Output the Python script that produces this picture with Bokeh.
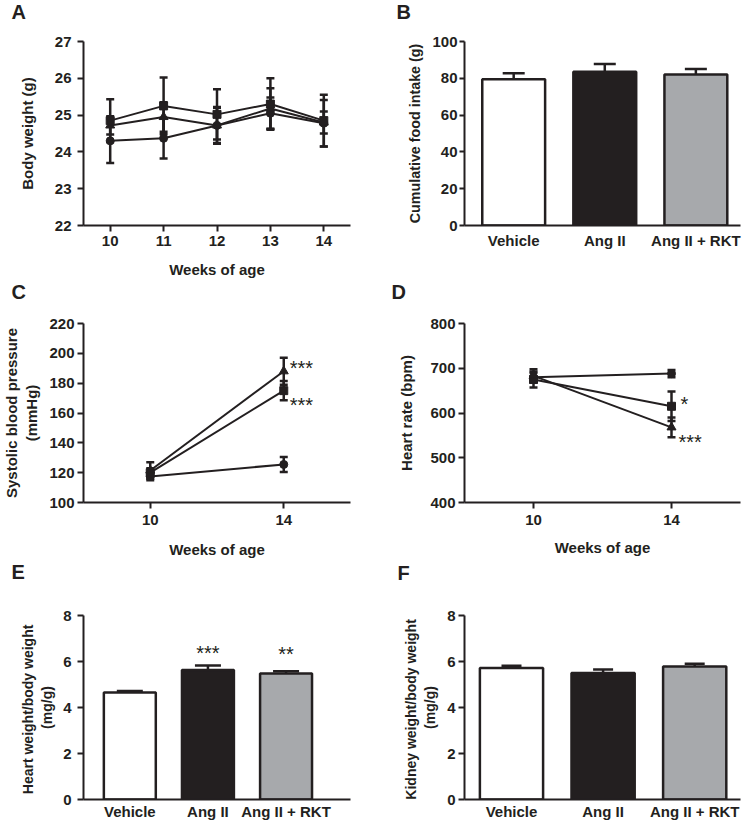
import math
from bokeh.plotting import figure
from bokeh.models import Range1d, FixedTicker, Whisker, TeeHead, ColumnDataSource
from bokeh.layouts import gridplot
from bokeh.embed import file_html
from bokeh.resources import INLINE
from bokeh.core.properties import value

INK = "#231f20"
GRAY = "#a7a9ac"
FONT = "Liberation Sans"

# ---------------- data ----------------
# Panel A: body weight
weeks_a = [10, 11, 12, 13, 14]
bw_ticks = [22, 23, 24, 25, 26, 27]
bw_vehicle = [24.30, 24.37, 24.72, 25.05, 24.78]
bw_vehicle_err = [0.60, 0.55, 0.48, 0.43, 0.63]
bw_angii = [24.85, 25.25, 25.02, 25.30, 24.85]
bw_angii_err = [0.58, 0.77, 0.68, 0.70, 0.70]
bw_rkt = [24.72, 24.95, 24.72, 25.18, 24.80]
bw_rkt_err = [0.25, 0.40, 0.50, 0.55, 0.30]

# Panel B/E/F groups
groups = ["Vehicle", "Ang II", "Ang II + RKT"]
bar_colors = ["white", INK, GRAY]
food = [79.5, 83.5, 82.0]
food_err = [3.2, 4.3, 3.0]
food_ticks = [0, 20, 40, 60, 80, 100]

# Panel C: systolic blood pressure
weeks_cd = [10, 14]
sbp_ticks = [100, 120, 140, 160, 180, 200, 220]
sbp_vehicle = [117.5, 125.5]
sbp_vehicle_err = [2.5, 5.0]
sbp_angii = [120.0, 175.0]
sbp_angii_err = [3.0, 6.5]
sbp_rkt = [121.5, 188.0]
sbp_rkt_err = [5.5, 9.0]
sbp_sig = ["***", "***"]

# Panel D: heart rate
hr_ticks = [400, 500, 600, 700, 800]
hr_vehicle = [680.0, 688.0]
hr_vehicle_err = [10.0, 8.0]
hr_angii = [675.0, 615.0]
hr_angii_err = [18.0, 33.0]
hr_rkt = [683.0, 568.0]
hr_rkt_err = [15.0, 22.0]
hr_sig = ["*", "***"]

# Panel E / F: organ weights
ratio_ticks = [0, 2, 4, 6, 8]
heart = [4.65, 5.63, 5.48]
heart_err = [0.07, 0.20, 0.10]
heart_sig = ["", "***", "**"]
kidney = [5.72, 5.50, 5.78]
kidney_err = [0.10, 0.15, 0.12]


# ---------------- helpers ----------------
def style_axis(ax, tick_out, standoff, label=None, label_standoff=0, label_size="15px"):
    ax.axis_line_width = 2
    ax.axis_line_color = INK
    ax.major_tick_line_width = 2
    ax.major_tick_line_color = INK
    ax.major_tick_out = tick_out
    ax.major_tick_in = 0
    ax.minor_tick_line_color = None
    ax.major_label_standoff = standoff
    ax.major_label_text_font = FONT
    ax.major_label_text_font_style = "bold"
    ax.major_label_text_font_size = "15px"
    ax.major_label_text_color = INK
    if label:
        ax.axis_label = label
        ax.axis_label_standoff = label_standoff
        ax.axis_label_text_font = FONT
        ax.axis_label_text_font_style = "bold"
        ax.axis_label_text_font_size = label_size
        ax.axis_label_text_color = INK


def make_fig(w, h, ml, mr, mt, mb, xr, yr, xticks, yticks, letter, letter_x,
             letter_standoff, pad_lines=1, xt=(6, 2), yt=(6, 5), xlabel=None, xls=0,
             ylabel=None, yls=0, ysize="15px"):
    # letter_x: left edge of the panel letter, in this figure's own pixels
    p = figure(width=w, height=h, x_range=Range1d(*xr), y_range=Range1d(*yr),
               title=letter + "\n " * pad_lines, output_backend="svg",
               toolbar_location=None,
               min_border_left=ml, min_border_right=mr,
               min_border_top=mt, min_border_bottom=mb)
    p.title.text_font = FONT
    p.title.text_font_size = "20px"
    p.title.text_font_style = "bold"
    p.title.text_color = INK
    p.title.align = "left"
    p.title.offset = letter_x - ml - 7
    p.title.standoff = letter_standoff
    p.outline_line_color = None
    p.xgrid.visible = False
    p.ygrid.visible = False
    p.background_fill_color = "white"
    p.border_fill_color = "white"
    p.xaxis.ticker = FixedTicker(ticks=xticks)
    p.yaxis.ticker = FixedTicker(ticks=yticks)
    style_axis(p.xaxis[0], *xt, label=xlabel, label_standoff=xls)
    style_axis(p.yaxis[0], *yt, label=ylabel, label_standoff=yls, label_size=ysize)
    return p


def series(p, xs, ys, es, marker, size, cap=8):
    src = ColumnDataSource(dict(
        x=xs, y=ys,
        lo=[y - e for y, e in zip(ys, es)],
        hi=[y + e for y, e in zip(ys, es)]))
    p.add_layout(Whisker(source=src, base="x", upper="hi", lower="lo",
                         line_color=INK, line_width=2.5,
                         upper_head=TeeHead(size=cap, line_color=INK, line_width=2.5),
                         lower_head=TeeHead(size=cap, line_color=INK, line_width=2.5)))
    p.line("x", "y", source=src, line_color=INK, line_width=2)
    p.scatter("x", "y", source=src, marker=marker, size=size,
              fill_color=INK, line_color=INK)


def bars(p, vals, errs, width, cap):
    xs = list(range(len(groups)))
    src = ColumnDataSource(dict(
        x=xs, top=vals, color=bar_colors,
        hi=[v + e for v, e in zip(vals, errs)]))
    p.add_layout(Whisker(source=src, base="x", upper="hi", lower="top",
                         line_color=INK, line_width=2.5,
                         upper_head=TeeHead(size=cap, line_color=INK, line_width=2.5),
                         lower_head=None))
    p.vbar(x="x", top="top", bottom=0, width=width, source=src,
           fill_color="color", line_color=INK, line_width=2.5)
    p.xaxis.major_label_overrides = {i: g for i, g in enumerate(groups)}


def stars(p, xs, ys, texts, xo, yo, align):
    p.text(x=xs, y=ys, text=texts, x_offset=xo, y_offset=yo,
           text_font=value(FONT), text_font_size="20px", text_align=align,
           text_baseline="alphabetic", text_color=INK)


# ---------------- Panel A ----------------
pa = make_fig(370, 280, 75, 16, 41, 52, (9.5, 14.5), (22, 27), weeks_a, bw_ticks,
              "A", 10, -6, xt=(6, 4), yt=(6, 6),
              xlabel="Weeks of age", xls=12, ylabel="Body weight (g)", yls=16)
series(pa, weeks_a, bw_vehicle, bw_vehicle_err, "circle", 8)
series(pa, weeks_a, bw_rkt, bw_rkt_err, "triangle", 9)
series(pa, weeks_a, bw_angii, bw_angii_err, "square", 8)

# ---------------- Panel B ----------------
pb = make_fig(373, 280, 90, 3, 41, 55, (-0.54, 2.49), (0, 100), [0, 1, 2], food_ticks,
              "B", 29, -6, xt=(0, 6), yt=(5, 2),
              ylabel="Cumulative food intake (g)", yls=6, ysize="14.3px")
bars(pb, food, food_err, 0.69, 22)

# ---------------- Panel C ----------------
pc = make_fig(370, 280, 75, 20, 43, 52, (8, 16), (100, 220), weeks_cd, sbp_ticks,
              "C", 10, -3, xt=(6, 6), yt=(6, 3),
              xlabel="Weeks of age", xls=13,
              ylabel="Systolic blood pressure\n(mmHg)", yls=6)
series(pc, weeks_cd, sbp_vehicle, sbp_vehicle_err, "circle", 8)
series(pc, weeks_cd, sbp_angii, sbp_angii_err, "square", 8)
series(pc, weeks_cd, sbp_rkt, sbp_rkt_err, "triangle", 9)
stars(pc, [weeks_cd[1], weeks_cd[1]], [sbp_rkt[1], sbp_angii[1]], sbp_sig,
      6, [-3, 14], "left")

# ---------------- Panel D ----------------
pd_ = make_fig(373, 280, 94, 2, 43, 52, (8, 16), (400, 800), weeks_cd, hr_ticks,
               "D", 28, -3, xt=(6, 6), yt=(6, 3),
               xlabel="Weeks of age", xls=11, ylabel="Heart rate (bpm)", yls=12)
series(pd_, weeks_cd, hr_vehicle, hr_vehicle_err, "circle", 8)
series(pd_, weeks_cd, hr_angii, hr_angii_err, "square", 8)
series(pd_, weeks_cd, hr_rkt, hr_rkt_err, "triangle", 9)
stars(pd_, [weeks_cd[1], weeks_cd[1]], [hr_angii[1], hr_rkt[1]], hr_sig,
      [9, 7], [-2, 15], "left")

# ---------------- Panel E ----------------
pe = make_fig(370, 262, 75, 7, 54, 23, (-0.593, 2.825), (0, 8), [0, 1, 2], ratio_ticks,
              "E", 10, -22, pad_lines=2, xt=(0, 3), yt=(6, 6),
              ylabel="Heart  weight/body weight\n(mg/g)", yls=5, ysize="14px")
bars(pe, heart, heart_err, 0.665, 26)
stars(pe, list(range(len(groups))), [v + e for v, e in zip(heart, heart_err)],
      heart_sig, 0, [-12, -12, -17], "center")

# ---------------- Panel F ----------------
pf = make_fig(373, 262, 91, 2, 55, 22, (-0.513, 2.50), (0, 8), [0, 1, 2], ratio_ticks,
              "F", 31, -24, pad_lines=2, xt=(0, 3), yt=(6, 3),
              ylabel="Kidney  weight/body weight\n(mg/g)", yls=6, ysize="14px")
bars(pf, kidney, kidney_err, 0.69, 20)

grid = gridplot([[pa, pb], [pc, pd_], [pe, pf]], toolbar_location=None)

open("out.html", "w").write(file_html(grid, INLINE))
